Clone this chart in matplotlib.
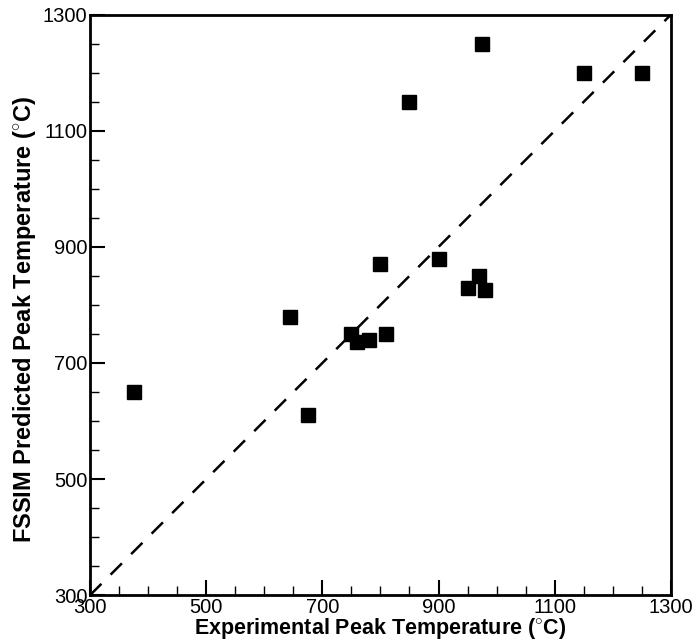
import numpy as np
import matplotlib.pyplot as plt

plt.rcParams['font.family'] = ['Liberation Sans', 'DejaVu Sans']
plt.rcParams['mathtext.fontset'] = 'custom'
plt.rcParams['mathtext.rm'] = 'Liberation Sans'

# measured vs. predicted peak temperatures (deg C)
experimental = [375, 645, 675, 750, 760, 780, 810, 800, 850, 900, 950, 970, 980, 975, 1150, 1250]
predicted = [650, 780, 610, 750, 737, 740, 750, 870, 1150, 880, 830, 850, 825, 1250, 1200, 1200]

lo, hi = 300, 1300
major = np.arange(lo, hi + 1, 200)
minor = np.arange(lo, hi + 1, 50)

fig = plt.figure(figsize=(6.93, 6.42), dpi=100)
ax = fig.add_axes([0.13, 0.073, 0.838, 0.904])

# perfect agreement line
ax.plot([lo, hi], [lo, hi], color='black', lw=1.8, dashes=(6.4, 5.2))
ax.plot(experimental, predicted, 's', color='black', markersize=10, linestyle='none')

ax.set_xlim(lo, hi)
ax.set_ylim(lo, hi)
ax.set_xticks(major)
ax.set_xticks(minor, minor=True)
ax.set_yticks(major)
ax.set_yticks(minor, minor=True)
ax.tick_params(which='both', direction='in', top=False, right=False, labelsize=14.5)
ax.tick_params(which='major', length=11, width=1.5, pad=2)
ax.tick_params(which='minor', length=6.5, width=1)

for s in ax.spines.values():
    s.set_linewidth(2)

ax.set_xlabel(r'Experimental Peak Temperature ($^{\circ}$C)', fontsize=15.5, fontweight='bold', labelpad=-1)
ax.set_ylabel(r'FSSIM Predicted Peak Temperature ($^{\circ}$C)', fontsize=17, fontweight='bold')
ax.yaxis.set_label_coords(-0.09, 0.475)

fig.savefig('out.png', dpi=100)
